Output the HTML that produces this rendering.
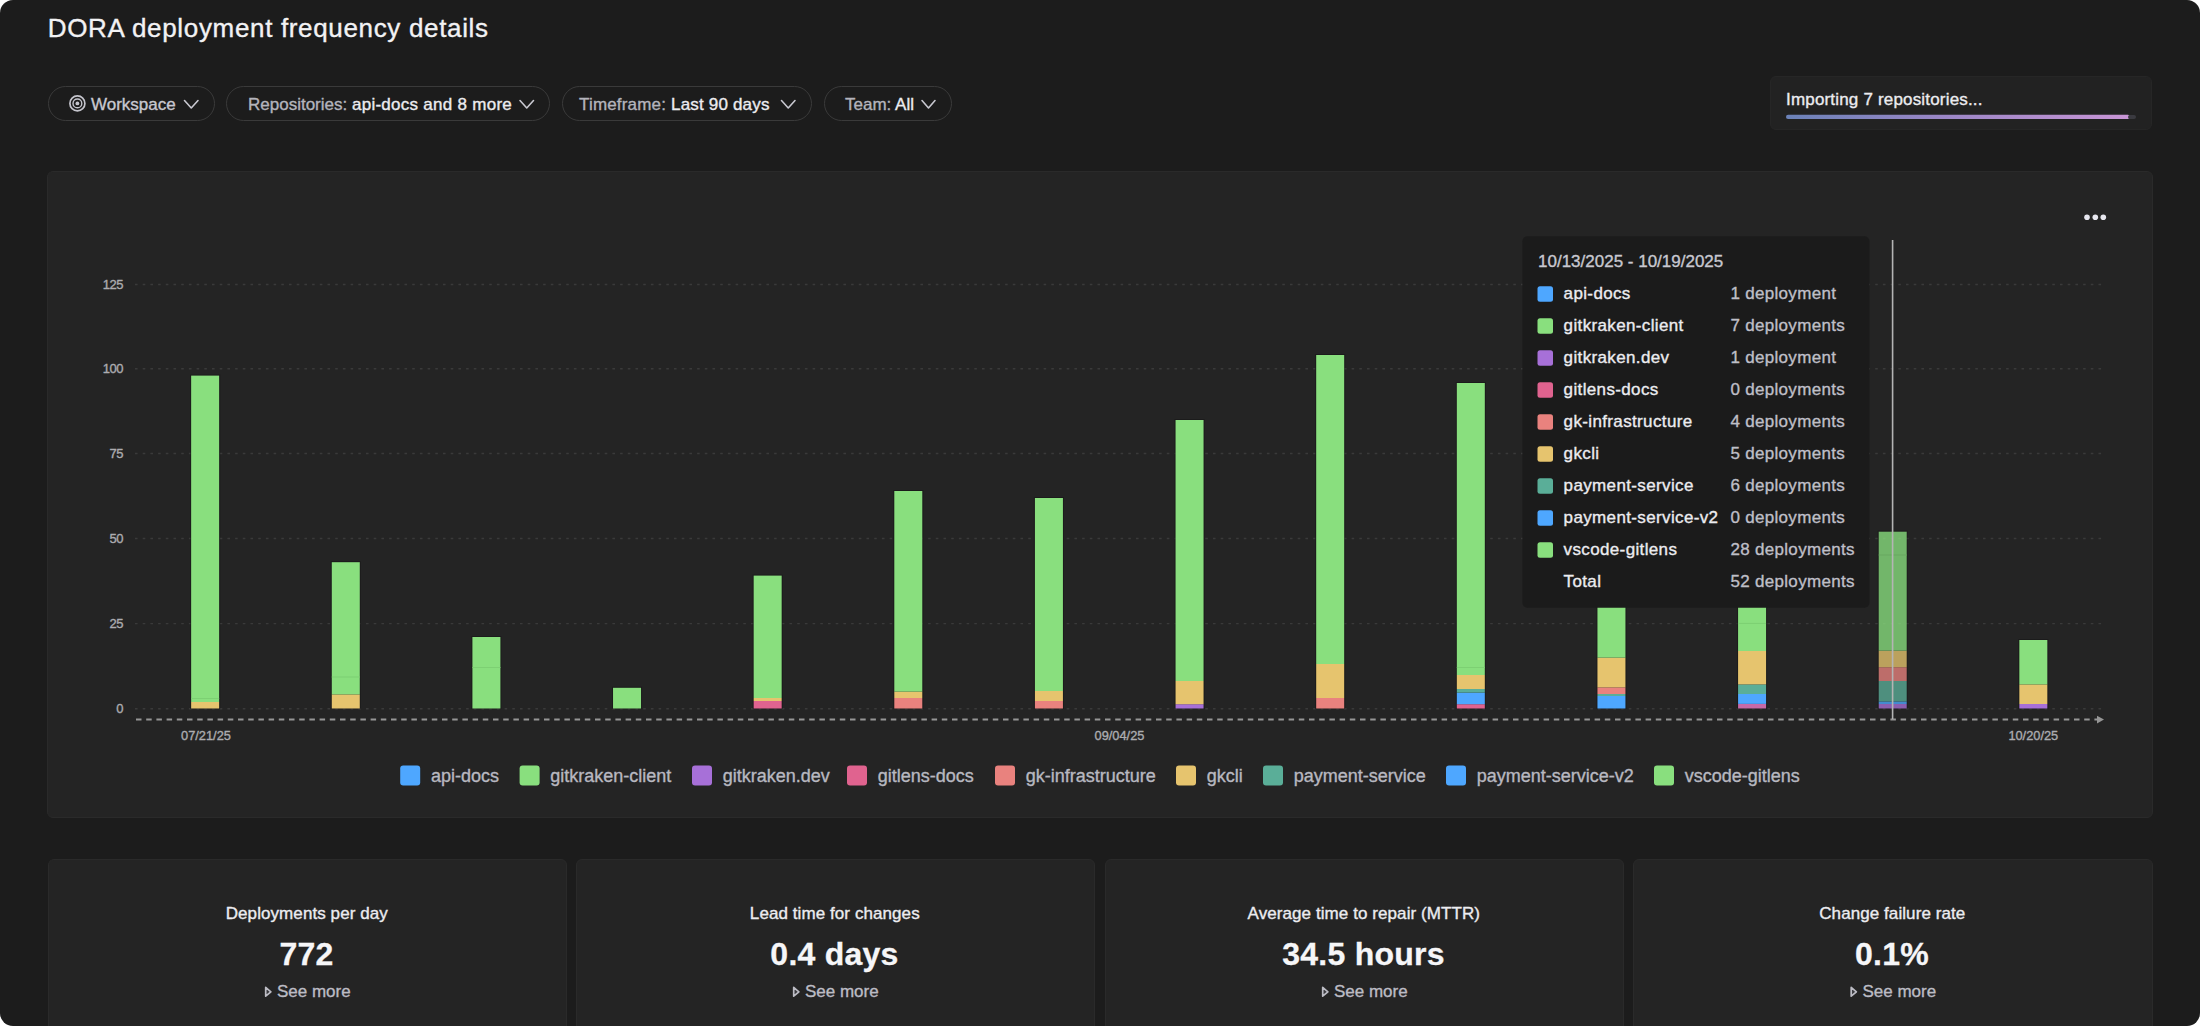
<!DOCTYPE html><html><head><meta charset="utf-8"><title>DORA deployment frequency details</title><style>
html,body{margin:0;padding:0;background:#ffffff;width:2200px;height:1026px;overflow:hidden}
#page{position:absolute;left:0;top:0;width:2200px;height:1026px;background:#1c1c1c;border-radius:13px;overflow:hidden;font-family:"Liberation Sans",sans-serif}
.card{position:absolute;background:#242424;border:1px solid #2a2a2a;border-radius:6px;box-sizing:border-box}
.pill{position:absolute;top:86px;height:35px;border:1.7px solid #3a3a3a;border-radius:18px;box-sizing:border-box}
svg{position:absolute;left:0;top:0}
</style></head><body><div id="page">
<div class="card" style="left:47px;top:171px;width:2106px;height:647px"></div>
<div class="card" style="left:47.5px;top:858.5px;width:519.5px;height:200px"></div>
<div class="card" style="left:575.5px;top:858.5px;width:519.5px;height:200px"></div>
<div class="card" style="left:1104.5px;top:858.5px;width:519.5px;height:200px"></div>
<div class="card" style="left:1633px;top:858.5px;width:519.5px;height:200px"></div>
<div class="card" style="left:1770px;top:76px;width:382px;height:54px;background:#222222;border-color:#262626;border-radius:6px"></div>
<div class="pill" style="left:48px;width:167px"></div>
<div class="pill" style="left:225.5px;width:324.5px"></div>
<div class="pill" style="left:562px;width:250px"></div>
<div class="pill" style="left:824px;width:128px"></div>
<svg width="2200" height="1026" viewBox="0 0 2200 1026" font-family='"Liberation Sans", sans-serif'>
<text x="47.8" y="37.2" font-size="26" fill="#f2f2f4" letter-spacing="0.66" stroke="#f2f2f4" stroke-width="0.35">DORA deployment frequency details</text>
<g font-size="17">
<g fill="none" stroke="#c4c4cc"><circle cx="77.4" cy="103.4" r="7.5" stroke-width="1.7"/><circle cx="77.4" cy="103.4" r="4.4" stroke-width="1.4"/></g><circle cx="77.4" cy="103.4" r="1.9" fill="#c4c4cc"/>
<text x="91" y="109.5" fill="#c8c8d0" stroke="#c8c8d0" stroke-width="0.35">Workspace</text>
<text x="248" y="109.5" fill="#b4b4bc" stroke="#b4b4bc" stroke-width="0.35">Repositories: <tspan fill="#ececf0" letter-spacing="0.27" stroke="#ececf0" stroke-width="0.35">api-docs and 8 more</tspan></text>
<text x="579" y="109.5" fill="#b4b4bc" letter-spacing="0.18" stroke="#b4b4bc" stroke-width="0.35">Timeframe: <tspan fill="#ececf0" stroke="#ececf0" stroke-width="0.35">Last 90 days</tspan></text>
<text x="845" y="109.5" fill="#b4b4bc" stroke="#b4b4bc" stroke-width="0.35">Team: <tspan fill="#ececf0" stroke="#ececf0" stroke-width="0.35">All</tspan></text>
</g>
<path d="M184.5 100.5 L191.25 108 L198 100.5" fill="none" stroke="#c8c8d0" stroke-width="1.6" stroke-linecap="round" stroke-linejoin="round"/>
<path d="M520 100.5 L526.75 108 L533.5 100.5" fill="none" stroke="#c8c8d0" stroke-width="1.6" stroke-linecap="round" stroke-linejoin="round"/>
<path d="M781.5 100.5 L788.25 108 L795 100.5" fill="none" stroke="#c8c8d0" stroke-width="1.6" stroke-linecap="round" stroke-linejoin="round"/>
<path d="M922 100.5 L928.5 108 L935 100.5" fill="none" stroke="#c8c8d0" stroke-width="1.6" stroke-linecap="round" stroke-linejoin="round"/>
<text x="1786" y="104.5" font-size="17" fill="#ececf0" letter-spacing="0.18" stroke="#ececf0" stroke-width="0.35">Importing 7 repositories...</text>
<defs><linearGradient id="pg" x1="0" x2="1" y1="0" y2="0"><stop offset="0" stop-color="#6b82b8"/><stop offset="0.45" stop-color="#9a86c6"/><stop offset="1" stop-color="#c995d6"/></linearGradient></defs>
<rect x="1786" y="114.8" width="344" height="4.2" rx="2.1" fill="url(#pg)"/>
<rect x="2128" y="115" width="8" height="4" rx="2" fill="#3a3a40"/>
<circle cx="2087" cy="217.3" r="2.8" fill="#e6e6ee"/>
<circle cx="2095.3" cy="217.3" r="2.8" fill="#e6e6ee"/>
<circle cx="2103.3" cy="217.3" r="2.8" fill="#e6e6ee"/>
<line x1="135" y1="284.5" x2="2102" y2="284.5" stroke="#3a3a3a" stroke-width="1.4" stroke-dasharray="2.6 5.1"/>
<text x="123" y="289.1" font-size="13" fill="#acacb0" text-anchor="end" letter-spacing="-0.45" stroke="#acacb0" stroke-width="0.35">125</text>
<line x1="135" y1="368.8" x2="2102" y2="368.8" stroke="#3a3a3a" stroke-width="1.4" stroke-dasharray="2.6 5.1"/>
<text x="123" y="373.40000000000003" font-size="13" fill="#acacb0" text-anchor="end" letter-spacing="-0.45" stroke="#acacb0" stroke-width="0.35">100</text>
<line x1="135" y1="453.5" x2="2102" y2="453.5" stroke="#3a3a3a" stroke-width="1.4" stroke-dasharray="2.6 5.1"/>
<text x="123" y="458.1" font-size="13" fill="#acacb0" text-anchor="end" letter-spacing="-0.45" stroke="#acacb0" stroke-width="0.35">75</text>
<line x1="135" y1="538.5" x2="2102" y2="538.5" stroke="#3a3a3a" stroke-width="1.4" stroke-dasharray="2.6 5.1"/>
<text x="123" y="543.1" font-size="13" fill="#acacb0" text-anchor="end" letter-spacing="-0.45" stroke="#acacb0" stroke-width="0.35">50</text>
<line x1="135" y1="623.6" x2="2102" y2="623.6" stroke="#3a3a3a" stroke-width="1.4" stroke-dasharray="2.6 5.1"/>
<text x="123" y="628.2" font-size="13" fill="#acacb0" text-anchor="end" letter-spacing="-0.45" stroke="#acacb0" stroke-width="0.35">25</text>
<line x1="135" y1="708.7" x2="2102" y2="708.7" stroke="#3a3a3a" stroke-width="1.4" stroke-dasharray="2.6 5.1"/>
<text x="123" y="713.3000000000001" font-size="13" fill="#acacb0" text-anchor="end" letter-spacing="-0.45" stroke="#acacb0" stroke-width="0.35">0</text>
<line x1="135" y1="719.6" x2="2097" y2="719.6" stroke="#969696" stroke-width="2" stroke-dasharray="5.5 4.7" stroke-dashoffset="-1"/>
<path d="M2097 715.8 L2104 719.6 L2097 723.4 Z" fill="#969696"/>
<text x="206" y="740.4" font-size="12.8" fill="#acacb0" text-anchor="middle" stroke="#acacb0" stroke-width="0.35">07/21/25</text>
<text x="1119.5" y="740.4" font-size="12.8" fill="#acacb0" text-anchor="middle" stroke="#acacb0" stroke-width="0.35">09/04/25</text>
<text x="2033.3" y="740.4" font-size="12.8" fill="#acacb0" text-anchor="middle" stroke="#acacb0" stroke-width="0.35">10/20/25</text>
<g>
<rect x="190.15" y="374.6" width="30" height="334.40" fill="#161616" opacity="0.6"/>
<rect x="191.15" y="702" width="28" height="6.50" fill="#e6c46e"/>
<rect x="191.15" y="375.6" width="28" height="326.40" fill="#89df7e"/>
<rect x="191.15" y="698" width="28" height="1" fill="#7dd073"/>
</g>
<g>
<rect x="330.78" y="561.2" width="30" height="147.80" fill="#161616" opacity="0.6"/>
<rect x="331.78" y="694.4" width="28" height="14.10" fill="#e6c46e"/>
<rect x="331.78" y="562.2" width="28" height="132.20" fill="#89df7e"/>
<rect x="331.78" y="676.5" width="28" height="1" fill="#7dd073"/>
</g>
<g>
<rect x="471.41" y="636" width="30" height="73.00" fill="#161616" opacity="0.6"/>
<rect x="472.41" y="637" width="28" height="71.50" fill="#89df7e"/>
<rect x="472.41" y="667" width="28" height="1" fill="#7dd073"/>
</g>
<g>
<rect x="612.04" y="686.8" width="30" height="22.20" fill="#161616" opacity="0.6"/>
<rect x="613.04" y="687.8" width="28" height="20.70" fill="#89df7e"/>
</g>
<g>
<rect x="752.67" y="574.6" width="30" height="134.40" fill="#161616" opacity="0.6"/>
<rect x="753.67" y="701" width="28" height="7.50" fill="#e0638f"/>
<rect x="753.67" y="698" width="28" height="3.00" fill="#e6c46e"/>
<rect x="753.67" y="575.6" width="28" height="122.40" fill="#89df7e"/>
</g>
<g>
<rect x="893.30" y="490" width="30" height="219.00" fill="#161616" opacity="0.6"/>
<rect x="894.30" y="698" width="28" height="10.50" fill="#e9827e"/>
<rect x="894.30" y="691.6" width="28" height="6.40" fill="#e6c46e"/>
<rect x="894.30" y="491" width="28" height="200.60" fill="#89df7e"/>
</g>
<g>
<rect x="1033.93" y="497" width="30" height="212.00" fill="#161616" opacity="0.6"/>
<rect x="1034.93" y="701" width="28" height="7.50" fill="#e9827e"/>
<rect x="1034.93" y="691" width="28" height="10.00" fill="#e6c46e"/>
<rect x="1034.93" y="498" width="28" height="193.00" fill="#89df7e"/>
</g>
<g>
<rect x="1174.56" y="419" width="30" height="290.00" fill="#161616" opacity="0.6"/>
<rect x="1175.56" y="704.2" width="28" height="4.30" fill="#a770d8"/>
<rect x="1175.56" y="681" width="28" height="23.20" fill="#e6c46e"/>
<rect x="1175.56" y="420" width="28" height="261.00" fill="#89df7e"/>
</g>
<g>
<rect x="1315.19" y="354" width="30" height="355.00" fill="#161616" opacity="0.6"/>
<rect x="1316.19" y="698" width="28" height="10.50" fill="#e9827e"/>
<rect x="1316.19" y="664" width="28" height="34.00" fill="#e6c46e"/>
<rect x="1316.19" y="355" width="28" height="309.00" fill="#89df7e"/>
</g>
<g>
<rect x="1455.82" y="382" width="30" height="327.00" fill="#161616" opacity="0.6"/>
<rect x="1456.82" y="704.2" width="28" height="4.30" fill="#e0638f"/>
<rect x="1456.82" y="692.6" width="28" height="11.60" fill="#4ea7ff"/>
<rect x="1456.82" y="689" width="28" height="3.60" fill="#5aae98"/>
<rect x="1456.82" y="675" width="28" height="14.00" fill="#e6c46e"/>
<rect x="1456.82" y="383" width="28" height="292.00" fill="#89df7e"/>
<rect x="1456.82" y="667" width="28" height="1" fill="#7dd073"/>
</g>
<g>
<rect x="1596.45" y="559" width="30" height="150.00" fill="#161616" opacity="0.6"/>
<rect x="1597.45" y="696" width="28" height="12.50" fill="#4ea7ff"/>
<rect x="1597.45" y="694" width="28" height="2.00" fill="#5aae98"/>
<rect x="1597.45" y="687.4" width="28" height="6.60" fill="#e9827e"/>
<rect x="1597.45" y="657.6" width="28" height="29.80" fill="#e6c46e"/>
<rect x="1597.45" y="560" width="28" height="97.60" fill="#89df7e"/>
</g>
<g>
<rect x="1737.08" y="559" width="30" height="150.00" fill="#161616" opacity="0.6"/>
<rect x="1738.08" y="703.9" width="28" height="4.60" fill="#c66aa8"/>
<rect x="1738.08" y="694" width="28" height="9.90" fill="#4ea7ff"/>
<rect x="1738.08" y="684.4" width="28" height="9.60" fill="#5aae98"/>
<rect x="1738.08" y="651" width="28" height="33.40" fill="#e6c46e"/>
<rect x="1738.08" y="560" width="28" height="91.00" fill="#89df7e"/>
<rect x="1738.08" y="622.9" width="28" height="1" fill="#7dd073"/>
</g>
<g opacity="0.78">
<rect x="1877.71" y="530.7" width="30" height="178.30" fill="#161616" opacity="0.6"/>
<rect x="1878.71" y="704" width="28" height="4.50" fill="#a770d8"/>
<rect x="1878.71" y="701.4" width="28" height="2.60" fill="#4ea7ff"/>
<rect x="1878.71" y="681" width="28" height="20.40" fill="#5aae98"/>
<rect x="1878.71" y="667.2" width="28" height="13.80" fill="#e9827e"/>
<rect x="1878.71" y="650.7" width="28" height="16.50" fill="#e6c46e"/>
<rect x="1878.71" y="531.7" width="28" height="119.00" fill="#89df7e"/>
<rect x="1878.71" y="554.5" width="28" height="1" fill="#7dd073"/>
</g>
<g>
<rect x="2018.34" y="639" width="30" height="70.00" fill="#161616" opacity="0.6"/>
<rect x="2019.34" y="704" width="28" height="4.50" fill="#a770d8"/>
<rect x="2019.34" y="684.4" width="28" height="19.60" fill="#e6c46e"/>
<rect x="2019.34" y="640" width="28" height="44.40" fill="#89df7e"/>
</g>
<line x1="1892.6" y1="240" x2="1892.6" y2="719" stroke="#b4b4b4" stroke-width="1.6"/>
<rect x="1522.4" y="236.2" width="347" height="371.5" rx="5" fill="#1b1b1b"/>
<text x="1538" y="267.4" font-size="17" fill="#c8c8d0" stroke="#c8c8d0" stroke-width="0.35">10/13/2025 - 10/19/2025</text>
<rect x="1537.5" y="286.2" width="15.5" height="15.5" rx="2.5" fill="#4ea7ff"/>
<text x="1563.6" y="299" font-size="17" fill="#ececf0" letter-spacing="0.36" stroke="#ececf0" stroke-width="0.35">api-docs</text>
<text x="1730.5" y="299" font-size="17" fill="#bfbfc7" letter-spacing="0.3" stroke="#bfbfc7" stroke-width="0.35">1 deployment</text>
<rect x="1537.5" y="318.2" width="15.5" height="15.5" rx="2.5" fill="#89df7e"/>
<text x="1563.6" y="331" font-size="17" fill="#ececf0" letter-spacing="0.36" stroke="#ececf0" stroke-width="0.35">gitkraken-client</text>
<text x="1730.5" y="331" font-size="17" fill="#bfbfc7" letter-spacing="0.3" stroke="#bfbfc7" stroke-width="0.35">7 deployments</text>
<rect x="1537.5" y="350.2" width="15.5" height="15.5" rx="2.5" fill="#a770d8"/>
<text x="1563.6" y="363" font-size="17" fill="#ececf0" letter-spacing="0.36" stroke="#ececf0" stroke-width="0.35">gitkraken.dev</text>
<text x="1730.5" y="363" font-size="17" fill="#bfbfc7" letter-spacing="0.3" stroke="#bfbfc7" stroke-width="0.35">1 deployment</text>
<rect x="1537.5" y="382.2" width="15.5" height="15.5" rx="2.5" fill="#e0638f"/>
<text x="1563.6" y="395" font-size="17" fill="#ececf0" letter-spacing="0.36" stroke="#ececf0" stroke-width="0.35">gitlens-docs</text>
<text x="1730.5" y="395" font-size="17" fill="#bfbfc7" letter-spacing="0.3" stroke="#bfbfc7" stroke-width="0.35">0 deployments</text>
<rect x="1537.5" y="414.2" width="15.5" height="15.5" rx="2.5" fill="#e9827e"/>
<text x="1563.6" y="427" font-size="17" fill="#ececf0" letter-spacing="0.36" stroke="#ececf0" stroke-width="0.35">gk-infrastructure</text>
<text x="1730.5" y="427" font-size="17" fill="#bfbfc7" letter-spacing="0.3" stroke="#bfbfc7" stroke-width="0.35">4 deployments</text>
<rect x="1537.5" y="446.2" width="15.5" height="15.5" rx="2.5" fill="#e6c46e"/>
<text x="1563.6" y="459" font-size="17" fill="#ececf0" letter-spacing="0.36" stroke="#ececf0" stroke-width="0.35">gkcli</text>
<text x="1730.5" y="459" font-size="17" fill="#bfbfc7" letter-spacing="0.3" stroke="#bfbfc7" stroke-width="0.35">5 deployments</text>
<rect x="1537.5" y="478.2" width="15.5" height="15.5" rx="2.5" fill="#5aae98"/>
<text x="1563.6" y="491" font-size="17" fill="#ececf0" letter-spacing="0.36" stroke="#ececf0" stroke-width="0.35">payment-service</text>
<text x="1730.5" y="491" font-size="17" fill="#bfbfc7" letter-spacing="0.3" stroke="#bfbfc7" stroke-width="0.35">6 deployments</text>
<rect x="1537.5" y="510.2" width="15.5" height="15.5" rx="2.5" fill="#4ea7ff"/>
<text x="1563.6" y="523" font-size="17" fill="#ececf0" letter-spacing="0.36" stroke="#ececf0" stroke-width="0.35">payment-service-v2</text>
<text x="1730.5" y="523" font-size="17" fill="#bfbfc7" letter-spacing="0.3" stroke="#bfbfc7" stroke-width="0.35">0 deployments</text>
<rect x="1537.5" y="542.2" width="15.5" height="15.5" rx="2.5" fill="#89df7e"/>
<text x="1563.6" y="555" font-size="17" fill="#ececf0" letter-spacing="0.36" stroke="#ececf0" stroke-width="0.35">vscode-gitlens</text>
<text x="1730.5" y="555" font-size="17" fill="#bfbfc7" letter-spacing="0.3" stroke="#bfbfc7" stroke-width="0.35">28 deployments</text>
<text x="1563.6" y="587" font-size="17" fill="#ececf0" letter-spacing="0.36" stroke="#ececf0" stroke-width="0.35">Total</text>
<text x="1730.5" y="587" font-size="17" fill="#bfbfc7" letter-spacing="0.3" stroke="#bfbfc7" stroke-width="0.35">52 deployments</text>
<rect x="400.2" y="765.6" width="20" height="19.8" rx="3" fill="#4ea7ff"/>
<text x="430.9" y="782" font-size="18" fill="#b8b8c0" stroke="#b8b8c0" stroke-width="0.35">api-docs</text>
<rect x="519.6" y="765.6" width="20" height="19.8" rx="3" fill="#89df7e"/>
<text x="550.3000000000001" y="782" font-size="18" fill="#b8b8c0" stroke="#b8b8c0" stroke-width="0.35">gitkraken-client</text>
<rect x="692" y="765.6" width="20" height="19.8" rx="3" fill="#a770d8"/>
<text x="722.7" y="782" font-size="18" fill="#b8b8c0" stroke="#b8b8c0" stroke-width="0.35">gitkraken.dev</text>
<rect x="847" y="765.6" width="20" height="19.8" rx="3" fill="#e0638f"/>
<text x="877.7" y="782" font-size="18" fill="#b8b8c0" stroke="#b8b8c0" stroke-width="0.35">gitlens-docs</text>
<rect x="995" y="765.6" width="20" height="19.8" rx="3" fill="#e9827e"/>
<text x="1025.7" y="782" font-size="18" fill="#b8b8c0" stroke="#b8b8c0" stroke-width="0.35">gk-infrastructure</text>
<rect x="1176" y="765.6" width="20" height="19.8" rx="3" fill="#e6c46e"/>
<text x="1206.7" y="782" font-size="18" fill="#b8b8c0" stroke="#b8b8c0" stroke-width="0.35">gkcli</text>
<rect x="1263" y="765.6" width="20" height="19.8" rx="3" fill="#5aae98"/>
<text x="1293.7" y="782" font-size="18" fill="#b8b8c0" stroke="#b8b8c0" stroke-width="0.35">payment-service</text>
<rect x="1446" y="765.6" width="20" height="19.8" rx="3" fill="#4ea7ff"/>
<text x="1476.7" y="782" font-size="18" fill="#b8b8c0" stroke="#b8b8c0" stroke-width="0.35">payment-service-v2</text>
<rect x="1654" y="765.6" width="20" height="19.8" rx="3" fill="#89df7e"/>
<text x="1684.7" y="782" font-size="18" fill="#b8b8c0" stroke="#b8b8c0" stroke-width="0.35">vscode-gitlens</text>
<text x="306.8" y="918.6" font-size="17" fill="#ececf0" text-anchor="middle" letter-spacing="0.08" stroke="#ececf0" stroke-width="0.35">Deployments per day</text>
<text x="306.5" y="965.2" font-size="32" font-weight="bold" letter-spacing="0.25" fill="#f6f6f8" text-anchor="middle" stroke="#f6f6f8" stroke-width="0.3">772</text>
<text x="313.8" y="997.3" font-size="17" fill="#bcbcc4" text-anchor="middle" stroke="#bcbcc4" stroke-width="0.35">See more</text>
<path d="M265.7 987.4 L270.9 991.8 L265.7 996.2 Z" fill="#3a3a3e" stroke="#bcbcc4" stroke-width="1.7" stroke-linejoin="round"/>
<text x="834.8" y="918.6" font-size="17" fill="#ececf0" text-anchor="middle" letter-spacing="0.08" stroke="#ececf0" stroke-width="0.35">Lead time for changes</text>
<text x="834.5" y="965.2" font-size="32" font-weight="bold" letter-spacing="0.25" fill="#f6f6f8" text-anchor="middle" stroke="#f6f6f8" stroke-width="0.3">0.4 days</text>
<text x="841.8" y="997.3" font-size="17" fill="#bcbcc4" text-anchor="middle" stroke="#bcbcc4" stroke-width="0.35">See more</text>
<path d="M793.6999999999999 987.4 L798.9 991.8 L793.6999999999999 996.2 Z" fill="#3a3a3e" stroke="#bcbcc4" stroke-width="1.7" stroke-linejoin="round"/>
<text x="1363.8" y="918.6" font-size="17" fill="#ececf0" text-anchor="middle" letter-spacing="0.08" stroke="#ececf0" stroke-width="0.35">Average time to repair (MTTR)</text>
<text x="1363.5" y="965.2" font-size="32" font-weight="bold" letter-spacing="0.25" fill="#f6f6f8" text-anchor="middle" stroke="#f6f6f8" stroke-width="0.3">34.5 hours</text>
<text x="1370.8" y="997.3" font-size="17" fill="#bcbcc4" text-anchor="middle" stroke="#bcbcc4" stroke-width="0.35">See more</text>
<path d="M1322.7 987.4 L1327.9 991.8 L1322.7 996.2 Z" fill="#3a3a3e" stroke="#bcbcc4" stroke-width="1.7" stroke-linejoin="round"/>
<text x="1892.3" y="918.6" font-size="17" fill="#ececf0" text-anchor="middle" letter-spacing="0.08" stroke="#ececf0" stroke-width="0.35">Change failure rate</text>
<text x="1892" y="965.2" font-size="32" font-weight="bold" letter-spacing="0.25" fill="#f6f6f8" text-anchor="middle" stroke="#f6f6f8" stroke-width="0.3">0.1%</text>
<text x="1899.3" y="997.3" font-size="17" fill="#bcbcc4" text-anchor="middle" stroke="#bcbcc4" stroke-width="0.35">See more</text>
<path d="M1851.2 987.4 L1856.4 991.8 L1851.2 996.2 Z" fill="#3a3a3e" stroke="#bcbcc4" stroke-width="1.7" stroke-linejoin="round"/>
</svg></div></body></html>
